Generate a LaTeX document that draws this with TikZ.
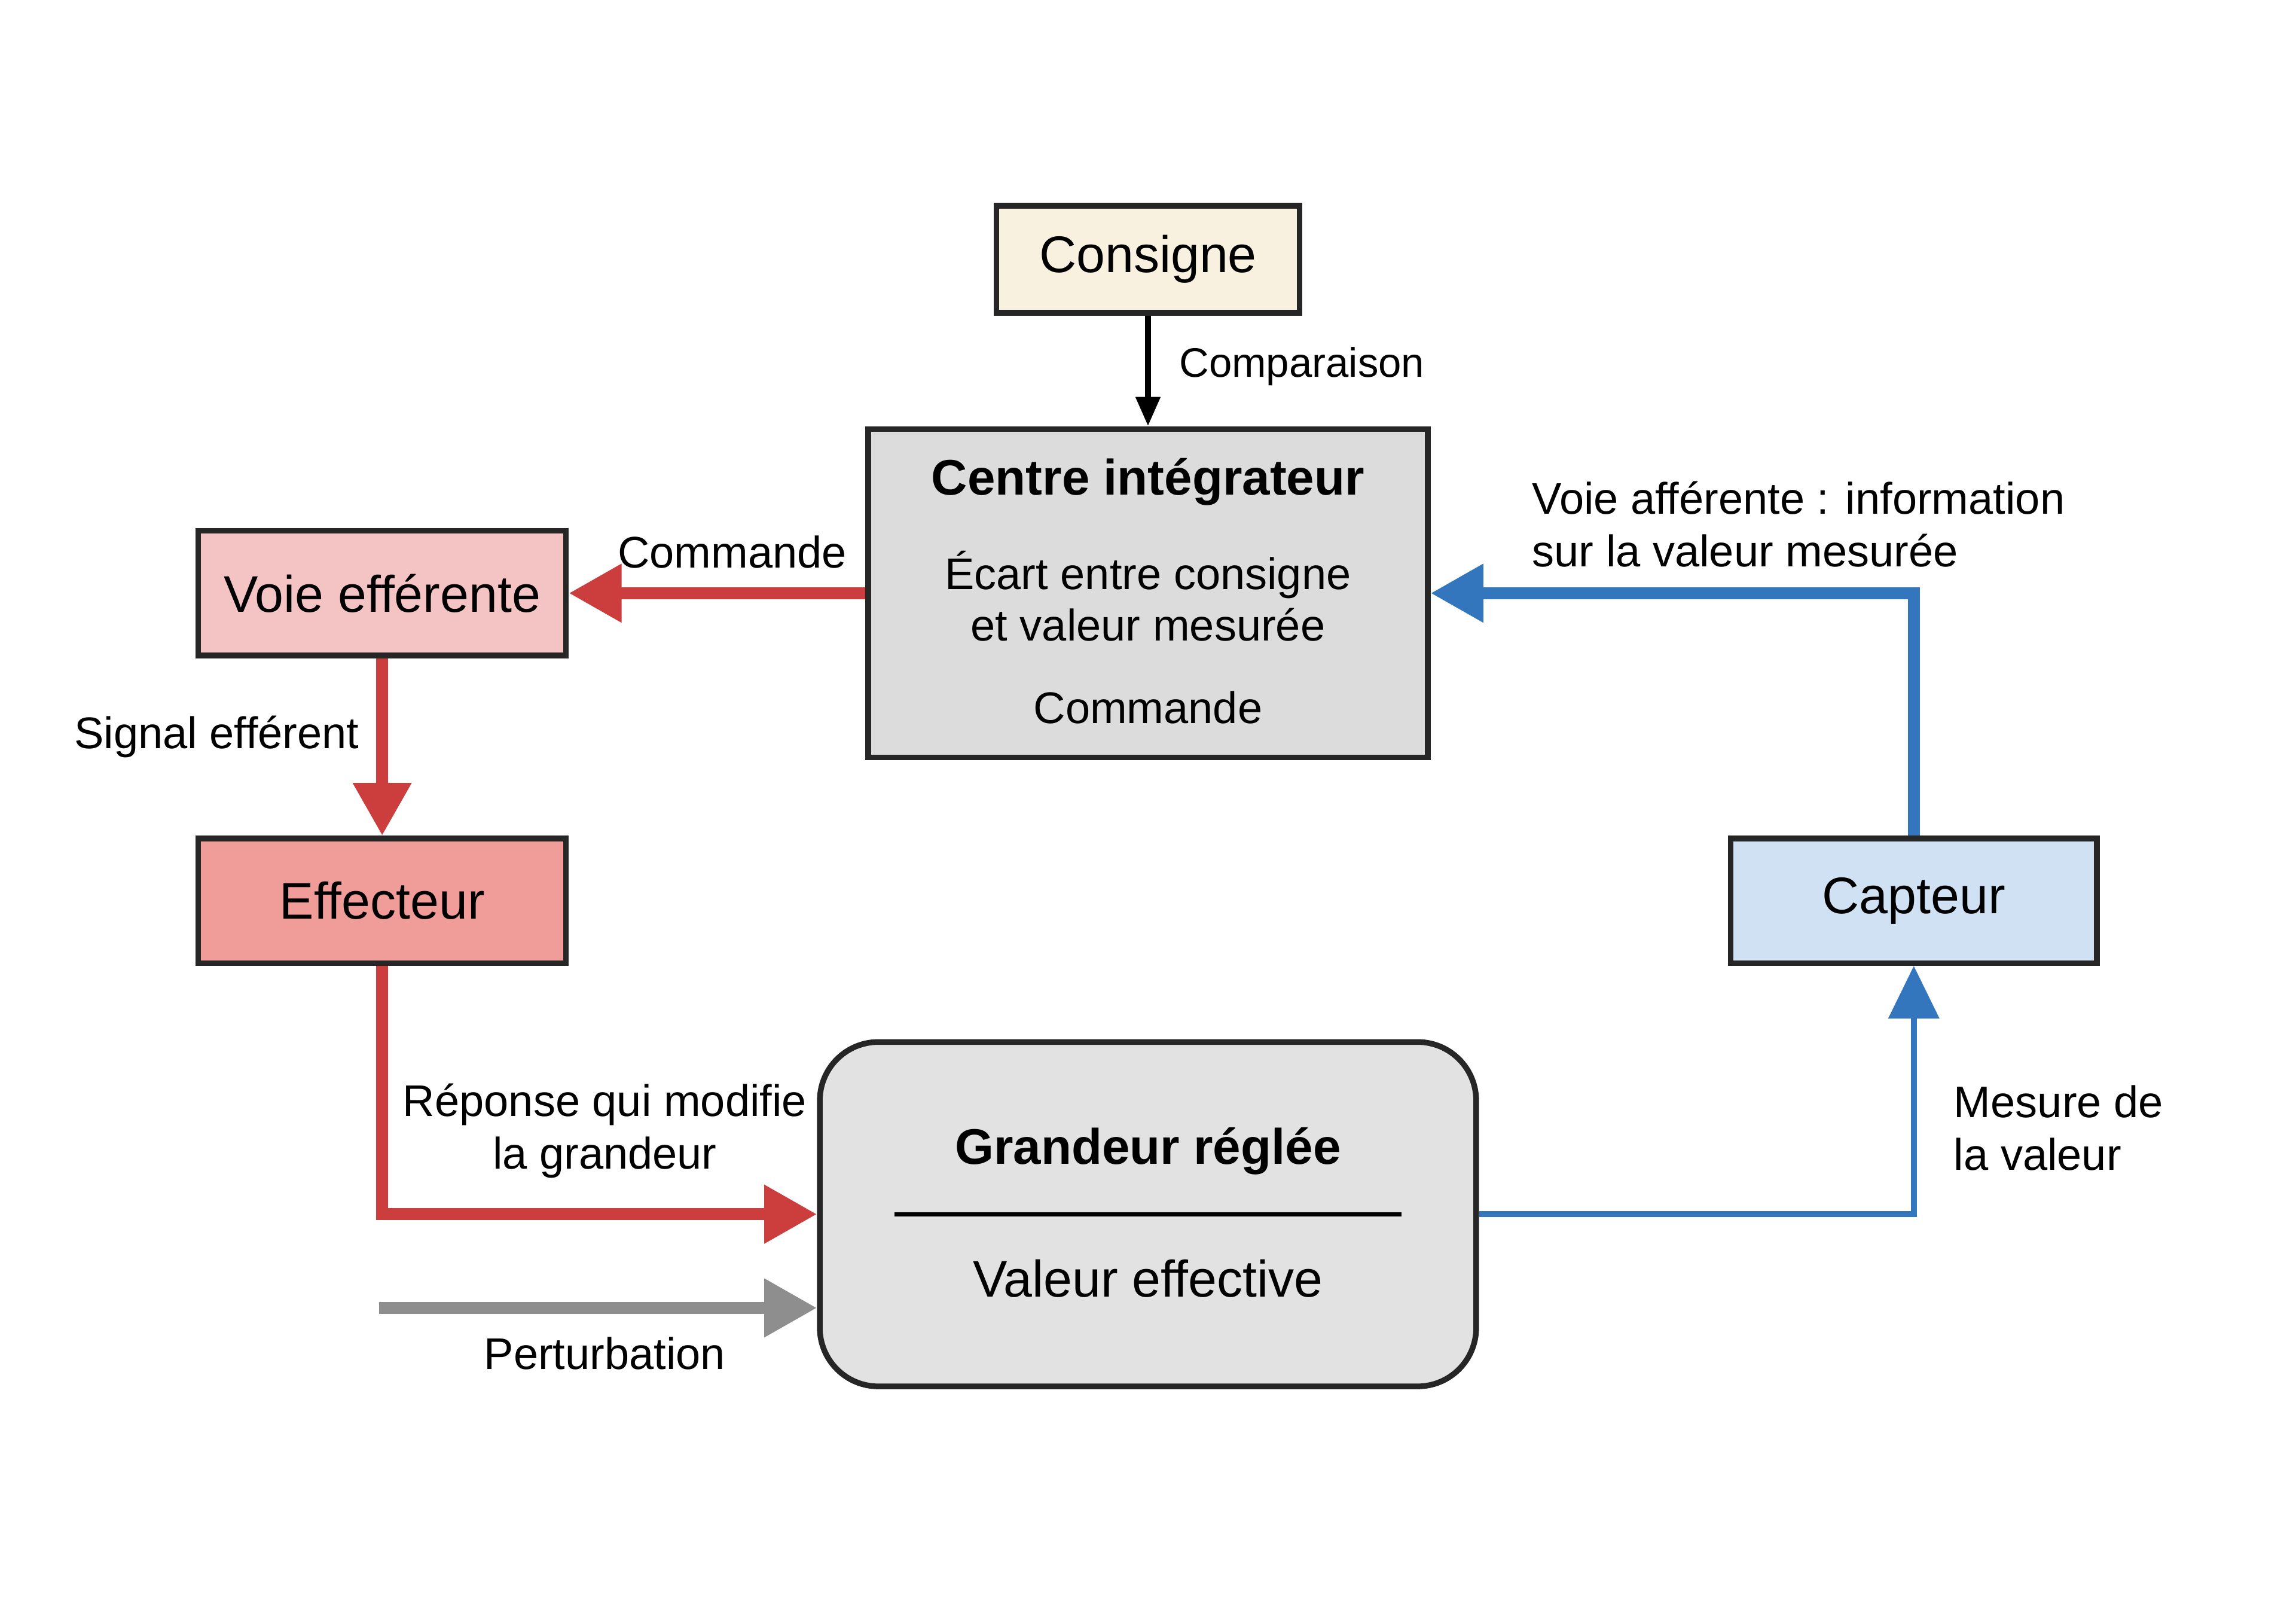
\documentclass[tikz,border=0pt]{standalone}
\usepackage{fontspec}
\setmainfont{Liberation Sans}
\usetikzlibrary{arrows.meta}
\definecolor{creme}{HTML}{F8F1DF}
\definecolor{grisbox}{HTML}{DCDCDC}
\definecolor{grisgr}{HTML}{E2E2E2}
\definecolor{rosevoie}{HTML}{F4C4C4}
\definecolor{roseeff}{HTML}{F09C98}
\definecolor{bleucap}{HTML}{D0E1F3}
\definecolor{rouge}{HTML}{CC3D3D}
\definecolor{bleu}{HTML}{3476BE}
\definecolor{grisfl}{HTML}{8E8E8E}
\begin{document}
\begin{tikzpicture}[x=0.01cm, y=-0.01cm,
  every node/.style = {font=\fontsize{8}{9.5}\selectfont},
  bloc/.style = {draw=black!85, line width=1.1pt, inner sep=0pt,
    font=\fontsize{10}{12}\selectfont},
  fleche/.style = {line width=2.3pt, -{Triangle[length=0.36cm, width=0.38cm]}},
  fine/.style = {line width=1.2pt, -{Triangle[length=0.2cm, width=0.16cm]}}]
  \useasboundingbox[fill=white] (0,0) rectangle (1568,1097);
  % blocs
  \node[bloc, fill=creme, minimum width=2.07cm, minimum height=0.73cm] (consigne) at (784,177) {Consigne};
  \node[bloc, fill=grisbox, minimum width=3.82cm, minimum height=2.24cm] (centre) at (784,405) {};
  \node[font=\bfseries\fontsize{9.7}{12}\selectfont] (titrecentre) at (784,329) {Centre intégrateur};
  \node[align=center, font=\fontsize{8.6}{10}\selectfont] (ecart) at (784,407) {Écart entre consigne\\et valeur mesurée};
  \node[font=\fontsize{8.6}{10}\selectfont] (cmdcentre) at (784,483) {Commande};
  \node[bloc, fill=rosevoie, minimum width=2.51cm, minimum height=0.85cm] (voie) at (261,405) {Voie efférente};
  \node[bloc, fill=roseeff, minimum width=2.51cm, minimum height=0.85cm] (effecteur) at (261,615) {Effecteur};
  \node[bloc, fill=bleucap, minimum width=2.5cm, minimum height=0.85cm] (capteur) at (1307,615) {Capteur};
  \node[bloc, fill=grisgr, rounded corners=0.4cm, minimum width=4.48cm, minimum height=2.35cm] (grandeur) at (784,829) {};
  \node[font=\bfseries\fontsize{9.7}{12}\selectfont] (titregr) at (784,786) {Grandeur réglée};
  \node[font=\fontsize{10}{12}\selectfont] (valeur) at (784,873) {Valeur effective};
  \draw[line width=0.8pt] (611,829) -- (957,829);
  % connecteurs
  \draw[fine, black] (consigne) -- (centre);
  \node[anchor=west] (comparaison) at (793,250) {Comparaison};
  \draw[fleche, rouge] (centre.west) -- (voie.east);
  \node[font=\fontsize{8.6}{10}\selectfont] (commande) at (500,377) {Commande};
  \draw[fleche, rouge] (voie) -- (effecteur);
  \node[font=\fontsize{8.6}{10}\selectfont] (signal) at (148,503) {Signal efférent};
  \draw[fleche, rouge] (effecteur.south) |- (grandeur.west);
  \node[align=center, font=\fontsize{8.6}{10.2}\selectfont] (reponse) at (413,772) {Réponse qui modifie\\la grandeur};
  \coordinate (perturb) at (259,893);
  \draw[fleche, grisfl] (perturb) -- (perturb -| grandeur.west);
  \node[font=\fontsize{8.6}{10}\selectfont] (perturbation) at (413,924) {Perturbation};
  \draw[bleu, line width=1.2pt, -{Triangle[length=0.36cm, width=0.34cm]}] (grandeur.east) -| (capteur.south);
  \node[anchor=west, align=left, font=\fontsize{8.6}{10.2}\selectfont] (mesure) at (1322,770) {Mesure de\\la valeur};
  \draw[fleche, bleu] (capteur.north) |- (centre.east);
  \node[anchor=west, align=left, font=\fontsize{8.6}{10.2}\selectfont] (afferente) at (1034,358) {Voie afférente : information\\sur la valeur mesurée};
\end{tikzpicture}
\end{document}
